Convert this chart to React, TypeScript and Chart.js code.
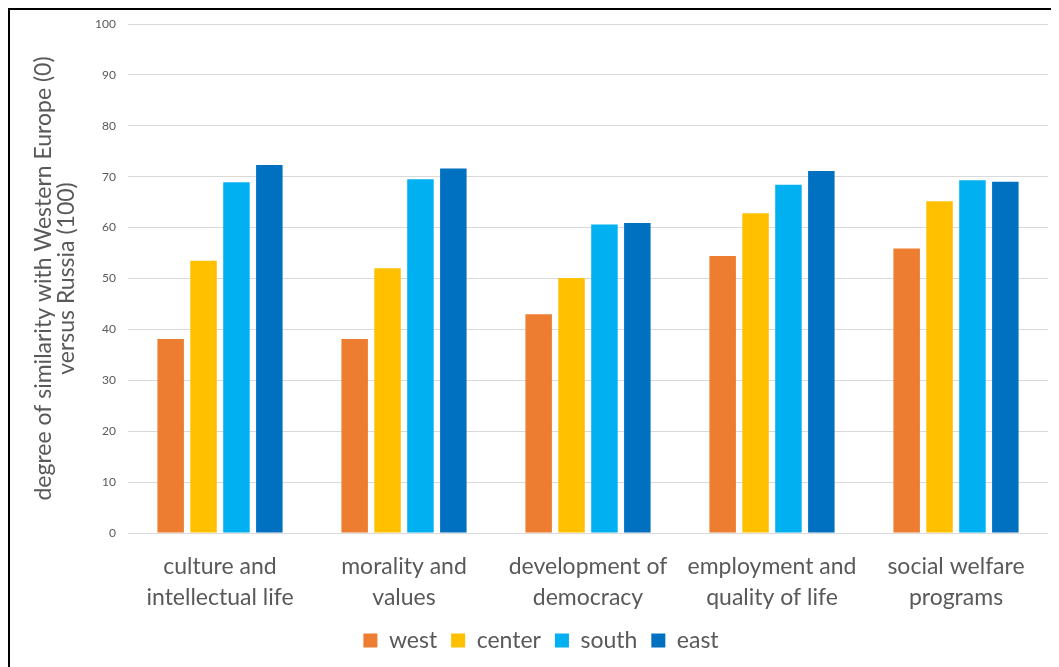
import React, { useEffect, useRef } from "react";
import { Chart, registerables } from "chart.js";

Chart.register(...registerables);

const categories: string[][] = [
  ["culture and", "intellectual life"],
  ["morality and", "values"],
  ["development of", "democracy"],
  ["employment and", "quality of life"],
  ["social welfare", "programs"],
];
const west = [38.1, 38.1, 43.0, 54.4, 55.9];
const center = [53.5, 52.0, 50.1, 62.8, 65.2];
const south = [68.9, 69.5, 60.6, 68.4, 69.3];
const east = [72.3, 71.6, 60.9, 71.1, 69.0];
const seriesNames = ["west", "center", "south", "east"];
const seriesColors = ["#ED7D31", "#FFC000", "#00B0F0", "#0070C0"];
const yTitle = ["degree of similarity with Western Europe (0)", "versus Russia (100)"];

const FONT = "Lato, 'Open Sans', sans-serif";
const TXT = "#595959";

const legendShift = {
  id: "legendShift",
  afterLayout(chart: any) {
    const lg = chart.legend;
    if (lg) {
      lg.left += 6;
      lg.right += 6;
    }
  },
};

export default function App() {
  const ref = useRef<HTMLCanvasElement | null>(null);
  useEffect(() => {
    document.documentElement.style.overflow = "hidden";
    const canvas = ref.current!;
    const values = [west, center, south, east];
    const chart = new Chart(canvas, {
      type: "bar",
      data: {
        labels: categories as any,
        datasets: seriesNames.map((n, i) => ({
          label: n,
          data: values[i],
          backgroundColor: seriesColors[i],
          borderWidth: 0,
          categoryPercentage: 0.715,
          barPercentage: 0.805,
        })),
      },
      options: {
        responsive: false,
        animation: false,
        devicePixelRatio: 1,
        layout: { padding: { left: 12, top: 14, right: 11, bottom: 5 } },
        plugins: {
          tooltip: { enabled: false },
          legend: {
            position: "bottom",
            labels: {
              boxWidth: 14,
              boxHeight: 14,
              padding: 14,
              color: TXT,
              font: { family: FONT, size: 23 },
            },
          },
        },
        scales: {
          x: {
            grid: { display: false, drawTicks: false },
            border: { display: false },
            ticks: {
              color: TXT,
              padding: 18,
              maxRotation: 0,
              autoSkip: false,
              font: { family: FONT, size: 23, lineHeight: 1.35 },
            },
            afterFit: (s: any) => {
              s.height = 82;
            },
          },
          y: {
            min: 0,
            max: 100,
            grid: { color: "#D9D9D9", lineWidth: 1, drawTicks: false },
            border: { display: false },
            ticks: {
              stepSize: 10,
              color: TXT,
              padding: 12,
              font: { family: FONT, size: 12 },
            },
            title: {
              display: true,
              text: yTitle,
              color: TXT,
              padding: { top: 10, bottom: 0 },
              font: { family: FONT, size: 23, lineHeight: 1.0 },
            },
            afterFit: (s: any) => {
              s.width = 106;
              s.paddingTop = 0;
              s.paddingBottom = 0;
            },
          },
        },
      },
      plugins: [legendShift],
    });
    return () => chart.destroy();
  }, []);
  return (
    <div
      style={{
        border: "2px solid #000",
        width: 1060,
        height: 670,
        boxSizing: "border-box",
        overflow: "hidden",
        background: "#fff",
      }}
    >
      <canvas ref={ref} width={1049} height={657} style={{ display: "block" }} />
    </div>
  );
}
